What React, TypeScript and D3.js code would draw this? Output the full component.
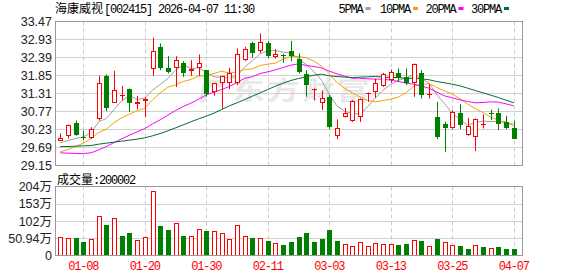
import React from 'react';
import * as d3 from 'd3';

const dates = [
  '01-05','01-06','01-07','01-08','01-09','01-12','01-13','01-14','01-15','01-16',
  '01-19','01-20','01-21','01-22','01-23','01-26','01-27','01-28','01-29','01-30',
  '02-02','02-03','02-04','02-05','02-06','02-09','02-10','02-11','02-12','02-13',
  '02-24','02-25','02-26','02-27','03-02','03-03','03-04','03-05','03-06','03-09',
  '03-10','03-11','03-12','03-13','03-16','03-17','03-18','03-19','03-20','03-23',
  '03-24','03-25','03-26','03-27','03-30','03-31','04-01','04-02','04-03','04-07'
];

const openP = [
  29.89,30.04,30.43,30.01,29.98,30.53,31.84,31.03,31.25,31.43,
  31.00,31.09,32.04,32.71,32.08,32.08,32.21,31.98,32.06,32.01,
  31.34,31.61,31.61,31.61,32.31,32.83,32.58,32.81,32.41,32.45,
  32.59,32.34,31.88,31.42,31.03,31.19,30.04,30.61,30.48,30.61,
  31.30,31.36,31.53,31.71,31.91,31.81,31.63,31.91,31.29,30.61,
  30.38,30.26,30.71,30.06,30.01,30.38,30.72,30.71,30.44,30.26
];
const closeP = [
  29.99,30.36,30.06,30.00,30.24,31.63,30.88,31.42,31.27,31.03,
  31.04,31.15,32.59,32.08,31.94,32.31,31.93,32.03,32.21,31.28,
  31.61,31.84,31.93,32.51,32.66,32.53,32.86,32.43,32.51,32.44,
  32.42,31.96,31.56,31.45,31.16,30.29,30.26,30.73,31.07,31.14,
  31.33,31.63,31.89,31.94,31.76,31.61,32.18,31.26,31.31,30.01,
  30.28,30.76,30.36,30.34,30.53,30.40,30.71,30.39,30.26,29.94
];
const highP = [
  30.11,30.38,30.50,30.19,30.30,31.84,31.88,31.99,31.54,31.46,
  31.24,31.20,32.99,32.81,32.43,32.43,32.28,32.31,32.48,32.01,
  31.61,31.84,32.08,32.66,32.71,32.86,33.11,32.89,32.64,32.50,
  32.89,32.51,32.01,31.46,31.40,31.26,30.53,30.88,31.11,31.16,
  31.34,31.76,31.93,32.03,32.06,32.06,32.21,32.01,31.59,31.06,
  30.46,30.81,30.99,30.58,30.56,30.68,30.83,30.86,30.64,30.49
];
const lowP = [
  29.89,29.96,30.04,29.91,29.94,30.50,30.78,31.03,31.10,30.76,
  30.84,30.60,31.84,32.01,31.91,31.51,31.81,31.84,31.84,31.21,
  31.24,30.84,31.44,31.56,32.28,32.38,32.53,32.38,32.36,32.23,
  32.28,31.91,31.21,31.11,30.81,30.24,29.94,30.59,30.46,30.46,
  31.06,31.18,31.51,31.63,31.66,31.56,31.21,31.16,31.16,29.94,
  29.56,30.24,30.24,30.04,29.58,30.26,30.51,30.21,30.24,29.94
];
// volume in 万
const volume = [
  53.9,50.9,51.9,40.1,48.0,117.7,89.2,109.8,56.8,65.6,
  45.0,55.8,189.3,86.3,75.5,97.1,56.8,58.8,77.4,71.5,
  71.5,65.6,48.0,91.2,58.8,50.9,52.9,42.1,38.2,30.3,
  39.2,53.9,65.6,39.2,48.0,74.5,42.1,35.2,27.4,41.1,
  29.4,38.2,33.3,35.2,30.3,33.3,47.1,42.1,29.4,48.0,
  41.1,30.3,27.4,18.5,32.3,24.4,21.5,24.4,18.5,20.0
];
const ma5 = [
  29.83,29.90,29.96,30.01,30.13,30.46,30.56,30.83,31.09,31.25,
  31.13,31.18,31.41,31.58,31.76,32.01,32.17,32.06,32.08,31.95,
  31.81,31.79,31.77,31.83,32.11,32.29,32.50,32.60,32.60,32.55,
  32.53,32.35,32.18,31.97,31.71,31.28,30.94,30.78,30.70,30.70,
  30.91,31.18,31.41,31.59,31.71,31.77,31.88,31.75,31.62,31.27,
  31.01,30.72,30.54,30.35,30.45,30.48,30.47,30.47,30.46,30.34
];
const ma10 = [
  29.56,29.63,29.72,29.82,29.96,30.14,30.24,30.44,30.58,30.69,
  30.79,30.87,31.12,31.33,31.50,31.57,31.67,31.73,31.83,31.85,
  31.91,31.98,31.92,31.96,32.03,32.05,32.15,32.19,32.22,32.34,
  32.42,32.42,32.38,32.28,32.13,31.90,31.64,31.47,31.33,31.21,
  31.10,31.06,31.10,31.14,31.20,31.34,31.53,31.58,31.61,31.49,
  31.39,31.30,31.15,30.99,30.86,30.74,30.60,30.51,30.40,30.40
];
const ma20 = [
  29.53,29.52,29.51,29.51,29.53,29.62,29.72,29.84,29.95,30.06,
  30.16,30.26,30.40,30.52,30.66,30.80,30.92,31.02,31.14,31.27,
  31.35,31.43,31.52,31.64,31.77,31.81,31.91,31.96,32.02,32.09,
  32.16,32.20,32.15,32.12,32.08,31.98,31.90,31.83,31.77,31.77,
  31.75,31.74,31.74,31.71,31.67,31.62,31.59,31.53,31.47,31.35,
  31.24,31.18,31.12,31.07,31.03,31.04,31.06,31.05,31.00,30.94
];
const ma30 = [
  29.72,29.72,29.73,29.74,29.75,29.79,29.82,29.85,29.88,29.91,
  29.94,29.98,30.04,30.11,30.19,30.28,30.37,30.46,30.55,30.63,
  30.72,30.83,30.94,31.03,31.13,31.23,31.33,31.43,31.53,31.62,
  31.70,31.76,31.81,31.86,31.89,31.84,31.82,31.80,31.79,31.80,
  31.81,31.82,31.80,31.79,31.79,31.76,31.77,31.75,31.72,31.67,
  31.63,31.59,31.54,31.47,31.40,31.33,31.26,31.19,31.11,31.03
];

const priceTicks = [29.15,29.69,30.23,30.77,31.31,31.85,32.39,32.93,33.47];
const priceTickLabels = ['29.15','29.69','30.23','30.77','31.31','31.85','32.39','32.93','33.47'];
const volTicks = [0,50.94,101.88,152.82,203.76];
const volTickLabels = ['0','50.94万','102万','153万','204万'];
const xTickDates = ['01-08','01-20','01-30','02-11','03-03','03-13','03-25','04-07'];

const maSeries = [
  { name: '5PMA', values: ma5, color: '#a0a0a0' },
  { name: '10PMA', values: ma10, color: '#f5a300' },
  { name: '20PMA', values: ma20, color: '#ff00ff' },
  { name: '30PMA', values: ma30, color: '#006e32' },
];

const title = '海康威视';
const titleCode = '[002415] 2026-04-07 11:30';
const volLabel = '成交量:200002';
const watermark = '东方财富';

const RED = '#ff0000';
const GREEN = '#008000';
const MONO = "'Liberation Mono', monospace";
const SANS = "'Liberation Sans', 'Noto Sans CJK SC', sans-serif";
const CJK = "'Noto Sans CJK SC', sans-serif";

export default function App() {
  const left = 55.5, right = 522.5;
  const x = d3.scalePoint<string>().domain(dates).range([60.3, 513.7]);
  const yP = d3.scaleLinear().domain([29.15, 33.47]).range([165.5, 21.5]);
  const yV = d3.scaleLinear().domain([0, 203.76]).range([255.5, 186.5]);
  const cx = (d: string) => Math.round(x(d) as number) + 0.5;

  const line = (vals: number[]) =>
    d3.line<number>().x((_, i) => x(dates[i]) as number).y(v => yP(v))(vals) || '';

  const legendX = [338.5, 380, 425.5, 471];

  return (
    <svg width={578} height={276} style={{ position: 'absolute', left: 0, top: 0, background: '#fff' }}>
      <rect x={0} y={0} width={578} height={276} fill="#fff" />
      {/* title */}
      <text x={55} y={12.5} fontFamily={CJK} fontSize={12} fill="#000">{title}</text>
      <text x={104} y={12.5} fontFamily={MONO} fontSize={12} letterSpacing={-1.2} fill="#000">{titleCode}</text>
      {/* legend */}
      {maSeries.map((s, k) => (
        <g key={s.name}>
          <text x={legendX[k]} y={12.5} fontFamily={MONO} fontSize={12} letterSpacing={-1.2} fill="#000">{s.name}</text>
          <rect x={legendX[k] + s.name.length * 6 + 3} y={7} width={5} height={3} fill={s.color} />
        </g>
      ))}

      {/* watermark */}
      <g fill="#e8e8e8">
        <path d="M203,84 Q214,76 226,82 L221,88 Q214,84 208,88 L206,100 Q203,104 199,102 Z" />
        <text transform="scale(1.25,1)" x={185.6} y={100} fontFamily={CJK} fontWeight={700} fontSize={26} letterSpacing={2}>{watermark}</text>
      </g>

      {/* price grid */}
      {priceTicks.map((t, k) => (
        <g key={'pt' + k}>
          {k > 0 && k < priceTicks.length - 1 && (
            <line x1={left} x2={right} y1={yP(t)} y2={yP(t)} stroke="#d0d0d0" strokeWidth={1} />
          )}
          <text x={52} y={yP(t) + 4.5} textAnchor="end" fontFamily={SANS} fontSize={12.5} fill="#222">{priceTickLabels[k]}</text>
        </g>
      ))}
      {xTickDates.map(d => (
        <g key={'xg' + d}>
          <line x1={cx(d)} x2={cx(d)} y1={21.5} y2={165.5} stroke="#cccccc" strokeDasharray="4,3" />
          <line x1={cx(d)} x2={cx(d)} y1={186.5} y2={255.5} stroke="#cccccc" strokeDasharray="4,3" />
          <text x={x(d) as number} y={269.5} textAnchor="middle" fontFamily={MONO} fontSize={12} letterSpacing={-1.2} fill={RED}>{d}</text>
        </g>
      ))}

      {/* MA lines */}
      {maSeries.map(s => (
        <path key={'ma' + s.name} d={line(s.values)} fill="none" stroke={s.color} strokeWidth={1} />
      ))}

      {/* candles */}
      {dates.map((d, i) => {
        const o = openP[i], c = closeP[i];
        const up = c >= o;
        const col = up ? RED : GREEN;
        const X = cx(d);
        const yTop = Math.round(yP(Math.max(o, c)));
        const yBot = Math.round(yP(Math.min(o, c)));
        const h = yBot - yTop;
        return (
          <g key={'c' + d}>
            <line x1={X} x2={X} y1={yP(highP[i])} y2={yP(lowP[i])} stroke={col} strokeWidth={1} />
            {h < 2 ? (
              <rect x={X - 2.5} y={yTop} width={5} height={Math.max(1, h)} fill={col} />
            ) : up ? (
              <rect x={X - 2} y={yTop + 0.5} width={4} height={h - 1} fill="#fff" stroke={col} strokeWidth={1} />
            ) : (
              <rect x={X - 2.5} y={yTop} width={5} height={h} fill={col} />
            )}
          </g>
        );
      })}
      <rect x={left} y={21.5} width={right - left} height={144} fill="none" stroke="#999" strokeWidth={1} />

      {/* volume */}
      <text x={57} y={183.5} fontFamily={CJK} fontSize={12} fill="#000">{volLabel.slice(0, 3)}</text>
      <text x={93} y={183.5} fontFamily={MONO} fontSize={12} letterSpacing={-1.2} fill="#000">{volLabel.slice(3)}</text>
      {volTicks.map((t, k) => (
        <g key={'vt' + k}>
          {k > 0 && k < volTicks.length - 1 && (
            <line x1={left} x2={right} y1={Math.round(yV(t)) + 0.5} y2={Math.round(yV(t)) + 0.5} stroke="#d0d0d0" />
          )}
          <text x={52} y={yV(t) + 4.5} textAnchor="end" fontFamily={SANS} fontSize={12.5} fill="#222">{volTickLabels[k]}</text>
        </g>
      ))}
      {dates.map((d, i) => {
        const up = i === 0 ? closeP[i] >= openP[i] : closeP[i] >= closeP[i - 1];
        const X = cx(d);
        const yT = Math.round(yV(volume[i]));
        return up ? (
          <rect key={'v' + d} x={X - 2} y={yT + 0.5} width={4} height={255.5 - yT - 0.5} fill="#fff" stroke={RED} strokeWidth={1} />
        ) : (
          <rect key={'v' + d} x={X - 2.5} y={yT} width={5} height={255.5 - yT} fill={GREEN} />
        );
      })}
      <rect x={left} y={186.5} width={right - left} height={69} fill="none" stroke="#999" strokeWidth={1} />
    </svg>
  );
}
